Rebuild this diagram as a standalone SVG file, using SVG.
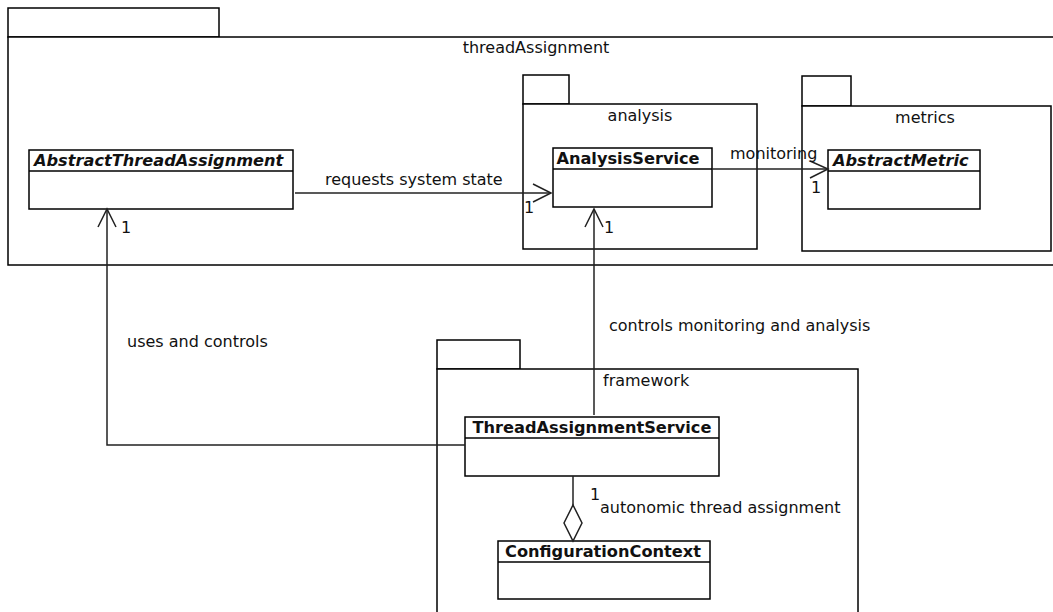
<svg xmlns="http://www.w3.org/2000/svg" width="1053" height="612" viewBox="0 0 1053 612">
<style>
.pk{fill:#fff;stroke:#000;stroke-width:1.5}
.cl{fill:#fff;stroke:#000;stroke-width:1.5}
.ln{fill:none;stroke:#222;stroke-width:1.5}
text{font-family:"DejaVu Sans",sans-serif;font-size:16px;fill:#111}
.t{font-weight:bold;font-size:16.2px}
.ti{font-weight:bold;font-style:italic;font-size:16.2px}
</style>
<rect width="1053" height="612" fill="#fff"/>
<g id="pkg-threadAssignment">
<rect class="pk" x="8" y="8" width="211" height="29"/>
<rect class="pk" x="8" y="37" width="1060" height="228"/>
<text x="536" y="53" text-anchor="middle">threadAssignment</text>
</g>
<g id="pkg-analysis">
<rect class="pk" x="523" y="75" width="46" height="29"/>
<rect class="pk" x="523" y="104" width="234" height="145"/>
<text x="640" y="121" text-anchor="middle">analysis</text>
</g>
<g id="pkg-metrics">
<rect class="pk" x="802" y="76" width="49" height="30"/>
<rect class="pk" x="802" y="106" width="249" height="145"/>
<text x="925" y="123" text-anchor="middle">metrics</text>
</g>
<g id="pkg-framework">
<rect class="pk" x="437" y="340" width="83" height="29"/>
<rect class="pk" x="437" y="369" width="421" height="260"/>
<text x="603" y="386">framework</text>
</g>
<g id="AbstractThreadAssignment">
<rect class="cl" x="29" y="150" width="264" height="59"/>
<line class="cl" x1="29" y1="171" x2="293" y2="171"/>
<text class="ti" x="34" y="166">AbstractThreadAssignment</text>
</g>
<g id="AnalysisService">
<rect class="cl" x="553" y="148" width="159" height="59"/>
<line class="cl" x1="553" y1="169" x2="712" y2="169"/>
<text class="t" x="628" y="164" text-anchor="middle">AnalysisService</text>
</g>
<g id="AbstractMetric">
<rect class="cl" x="828" y="150" width="152" height="59"/>
<line class="cl" x1="828" y1="171" x2="980" y2="171"/>
<text class="ti" x="833" y="166">AbstractMetric</text>
</g>
<g id="ThreadAssignmentService">
<rect class="cl" x="465" y="417" width="254" height="59"/>
<line class="cl" x1="465" y1="438" x2="719" y2="438"/>
<text class="t" x="592" y="433" text-anchor="middle">ThreadAssignmentService</text>
</g>
<g id="ConfigurationContext">
<rect class="cl" x="498" y="541" width="212" height="58"/>
<line class="cl" x1="498" y1="562" x2="710" y2="562"/>
<text class="t" x="603" y="557" text-anchor="middle">ConfigurationContext</text>
</g>
<g id="connectors">
<line class="ln" x1="295" y1="193" x2="551" y2="193"/>
<polyline class="ln" points="533,184 551,193 533,202"/>
<text x="325" y="185">requests system state</text>
<text x="524" y="213">1</text>
<line class="ln" x1="712" y1="169" x2="828" y2="169"/>
<polyline class="ln" points="810,161 828,169 810,178"/>
<text x="730" y="159">monitoring</text>
<text x="811" y="193">1</text>
<line class="ln" x1="594" y1="415" x2="594" y2="209"/>
<polyline class="ln" points="585,227 594,209 603,227"/>
<text x="604" y="233">1</text>
<text x="609" y="331">controls monitoring and analysis</text>
<polyline class="ln" points="465,445 107,445 107,209"/>
<polyline class="ln" points="98,227 107,209 116,227"/>
<text x="121" y="233">1</text>
<text x="127" y="347">uses and controls</text>
<line class="ln" x1="573" y1="476" x2="573" y2="505"/>
<polygon class="ln" points="573,505 582,523 573,541 564,523" fill="#fff"/>
<text x="590" y="500">1</text>
<text x="600" y="513">autonomic thread assignment</text>
</g>
</svg>
